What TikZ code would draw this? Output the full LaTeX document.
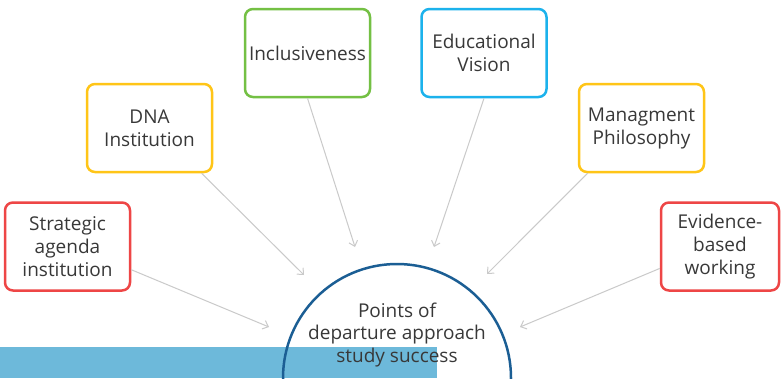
\documentclass[tikz,border=0pt]{standalone}
\usepackage{fontspec}
\setmainfont{Open Sans}
\usetikzlibrary{arrows.meta}
\definecolor{bxred}{HTML}{EE4646}
\definecolor{bxyellow}{HTML}{FFC517}
\definecolor{bxgreen}{HTML}{74C044}
\definecolor{bxblue}{HTML}{1CB2EC}
\definecolor{circblue}{HTML}{1B5E94}
\definecolor{barblue}{HTML}{6DB9DA}
\definecolor{txt}{HTML}{383838}
\definecolor{arrgray}{HTML}{CACACA}
\begin{document}
\begin{tikzpicture}[x=1pt,y=-1pt,
  box/.style={draw=#1, line width=2.5pt, rounded corners=8pt, fill=white,
    minimum width=125pt, minimum height=88pt, inner sep=0pt,
    align=center, text=txt, font=\fontsize{19}{23}\selectfont},
  conn/.style={draw=arrgray, line width=1pt, -{Straight Barb[length=5pt,width=9pt]}}]
\path[use as bounding box] (0,0) rectangle (781,378);
\clip (0,0) rectangle (781,378);
\fill[white] (0,0) rectangle (781,378);
% bar
\fill[barblue] (0,347) rectangle (437,378);
% semicircle
\coordinate (C) at (397,378);
\draw[circblue, line width=2.5pt] (C) circle[radius=114];
\node[text=txt, align=center, font=\fontsize{19}{22.5}\selectfont] (core) at (397,335)
  {Points of\\departure approach\\study success};
% boxes
\node[box=bxred] (S) at (67.5,246.5) {Strategic\\agenda\\institution};
\node[box=bxyellow] (D) at (149.5,128) {DNA\\Institution};
\node[box=bxgreen] (I) at (307.5,53) {Inclusiveness};
\node[box=bxblue] (E) at (484,53) {Educational\\Vision};
\node[box=bxyellow] (M) at (641.5,128) {Managment\\Philosophy};
\node[box=bxred, minimum width=118pt] (V) at (720,246.5) {Evidence-\\based\\working};
% arrow ends
\coordinate (eS) at (269,327);
\coordinate (eD) at (304,275);
\coordinate (eI) at (355,247);
\coordinate (eE) at (434,247);
\coordinate (eM) at (487,274);
\coordinate (eV) at (520,327);
\draw[conn] (S.-20) -- (eS);
\draw[conn] (D.-41) -- (eD);
\draw[conn] (I.south) -- (eI);
\draw[conn] (E.south) -- (eE);
\draw[conn] (M.-140) -- (eM);
\draw[conn] (V.200) -- (eV);
\end{tikzpicture}
\end{document}
